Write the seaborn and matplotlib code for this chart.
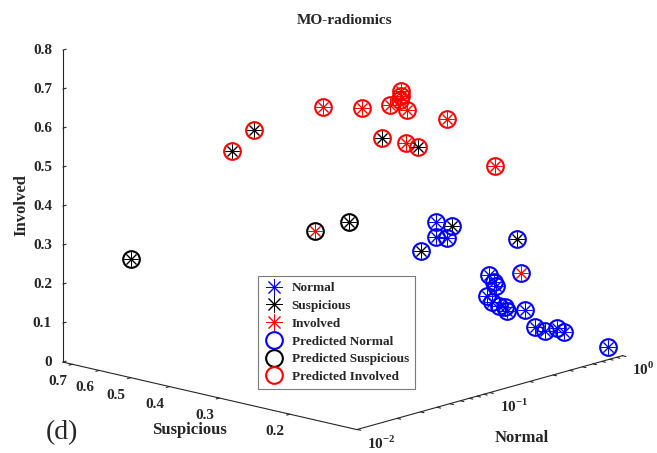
import numpy as np
import matplotlib
matplotlib.use('Agg')
import matplotlib.pyplot as plt
import matplotlib.transforms as mtransforms
import seaborn as sns
from matplotlib.lines import Line2D
from mpl_toolkits.mplot3d import proj3d

# class probabilities per sample
normal = [0.033, 0.026, 0.037, 0.066, 0.044, 0.062, 0.073, 0.079, 0.104, 0.158,
          0.152, 0.186, 0.207, 0.308, 0.035, 0.251, 0.289, 0.405, 0.431, 0.442,
          0.456, 0.457, 0.512, 0.603, 0.585, 0.607, 0.621, 0.639, 0.655, 0.672,
          0.681, 0.690, 0.704, 0.751, 0.768, 0.766, 0.780, 0.834]
suspicious = [0.416, 0.339, 0.255, 0.247, 0.173, 0.193, 0.205, 0.224, 0.222, 0.202,
              0.291, 0.271, 0.261, 0.192, 0.756, 0.506, 0.436, 0.295, 0.275, 0.303,
              0.287, 0.335, 0.200, 0.206, 0.245, 0.241, 0.240, 0.255, 0.251, 0.242,
              0.236, 0.234, 0.212, 0.205, 0.194, 0.181, 0.175, 0.139]
involved = [0.551, 0.635, 0.708, 0.687, 0.783, 0.745, 0.722, 0.697, 0.674, 0.641,
            0.557, 0.543, 0.532, 0.500, 0.209, 0.243, 0.275, 0.300, 0.294, 0.255,
            0.257, 0.208, 0.288, 0.191, 0.170, 0.152, 0.139, 0.106, 0.093, 0.086,
            0.083, 0.075, 0.085, 0.044, 0.038, 0.053, 0.046, 0.027]
true_label = ['Suspicious', 'Suspicious', 'Involved', 'Involved', 'Involved', 'Involved',
              'Involved', 'Involved', 'Involved', 'Involved', 'Suspicious', 'Involved',
              'Suspicious', 'Involved', 'Suspicious', 'Involved', 'Suspicious', 'Normal',
              'Suspicious', 'Normal', 'Normal', 'Suspicious', 'Suspicious', 'Involved',
              'Normal', 'Normal', 'Normal', 'Normal', 'Normal', 'Normal', 'Normal',
              'Normal', 'Normal', 'Normal', 'Normal', 'Normal', 'Normal', 'Normal']
pred_label = ['Involved'] * 14 + ['Suspicious'] * 3 + ['Normal'] * 21

classes = ['Normal', 'Suspicious', 'Involved']
colors = {'Normal': 'blue', 'Suspicious': 'black', 'Involved': 'red'}

# axis ticks
x_decades = [0.01, 0.1, 1]
x_decade_labels = [r'$10^{-2}$', r'$10^{-1}$', r'$10^{0}$']
y_ticks = [0.2, 0.3, 0.4, 0.5, 0.6, 0.7]
z_ticks = [0, 0.1, 0.2, 0.3, 0.4, 0.5, 0.6, 0.7, 0.8]
z_labels = ['0', '0.1', '0.2', '0.3', '0.4', '0.5', '0.6', '0.7', '0.8']

sns.set_style('white')
plt.rcParams['font.family'] = ['Liberation Serif', 'DejaVu Serif']
plt.rcParams['font.weight'] = 'bold'
plt.rcParams['mathtext.fontset'] = 'custom'
plt.rcParams['mathtext.rm'] = 'Liberation Serif:bold'
plt.rcParams['mathtext.bf'] = 'Liberation Serif:bold'

fig = plt.figure(figsize=(6.57, 4.53), dpi=100)
ax = fig.add_axes([-0.0253, -0.2413, 1.06545, 1.5453], projection='3d')
ax.set_proj_type('ortho')
ax.view_init(elev=14.64, azim=-137.75)
ax.set_box_aspect((4, 4.015, 3.261), zoom=0.8967)

# Normal and Suspicious are on log axes
lx = np.log10(normal)
ly = np.log10(suspicious)
for i in range(len(normal)):
    ax.plot([lx[i]], [ly[i]], [involved[i]], ls='none', marker=(8, 2, 0), ms=10,
            mew=0.7, color=colors[true_label[i]])
    ax.plot([lx[i]], [ly[i]], [involved[i]], ls='none', marker='o', ms=12, mew=1.5,
            mfc='none', mec=colors[pred_label[i]])

ax.set_xlim(-2.003, 0.003)
ax.set_ylim(-0.8665, -0.1315)
ax.set_zlim(0, 0.8)

xt = [np.log10(k * d) for d in x_decades[:-1] for k in range(1, 10)] + [0]
ax.set_xticks(xt)
ax.set_xticklabels([''] * len(xt))
ax.set_yticks(np.log10(y_ticks))
ax.set_yticklabels([''] * len(y_ticks))
ax.set_zticks(z_ticks)
ax.set_zticklabels([''] * len(z_ticks))

ax.grid(False)
for a in (ax.xaxis, ax.yaxis, ax.zaxis):
    a.pane.fill = False
    a.pane.set_edgecolor('none')
    a._axinfo['tick']['inward_factor'] = 0.15
    a._axinfo['tick']['outward_factor'] = 0.0
    a._axinfo['tick']['color'] = '0.2'
    a._axinfo['axisline']['color'] = '0.2'
ax.zaxis._axinfo['axisline']['color'] = '0.5'
ax.zaxis._axinfo['tick']['inward_factor'] = 0.0
ax.zaxis._axinfo['tick']['outward_factor'] = 0.15

# tick labels placed next to the projected tick positions (MATLAB style)
fig.canvas.draw()
M = ax.get_proj()
ident = mtransforms.IdentityTransform()


def tick_label(x, y, z, s, dx, dy, ha, va):
    x2, y2, _ = proj3d.proj_transform(x, y, z, M)
    px, py = ax.transData.transform((x2, y2))
    fig.text(px + dx, py + dy, s, transform=ident, ha=ha, va=va, fontsize=11)


for v, s in zip(x_decades, x_decade_labels):
    tick_label(np.log10(v), -0.8665, 0, s, 10, -5, 'left', 'top')
for v in y_ticks:
    tick_label(-2.003, np.log10(v), 0, str(v), -5, -11, 'right', 'top')
for v, s in zip(z_ticks, z_labels):
    tick_label(-2.003, -0.1315, v, s, -11, 0, 'right', 'center')

fig.text(0.525, 0.955, 'MO-radiomics', ha='center', va='center', fontsize=11)
fig.text(0.032, 0.548, 'Involved', ha='center', va='center', rotation=90, fontsize=12)
fig.text(0.289, 0.051, 'Suspicious', ha='center', va='center', fontsize=12)
fig.text(0.794, 0.033, 'Normal', ha='center', va='center', fontsize=12)
fig.text(0.094, 0.046, '(d)', ha='center', va='center', fontsize=20, fontweight='normal')

handles = [Line2D([], [], ls='none', marker=(8, 2, 0), ms=12, mew=0.7, color=colors[c]) for c in classes]
handles += [Line2D([], [], ls='none', marker='o', ms=12, mew=1.5, mfc='none', mec=colors[c]) for c in classes]
labels = classes + ['Predicted ' + c for c in classes]
leg = fig.legend(handles, labels, loc='upper left', bbox_to_anchor=(258 / 657, 1 - 276 / 453),
                 fontsize=9.5, frameon=True, fancybox=False, edgecolor='0.35',
                 borderpad=0.45, labelspacing=0.42, handlelength=1.6, handletextpad=0.5,
                 borderaxespad=0)
leg.get_frame().set_linewidth(0.8)

fig.savefig('out.png', dpi=100)
